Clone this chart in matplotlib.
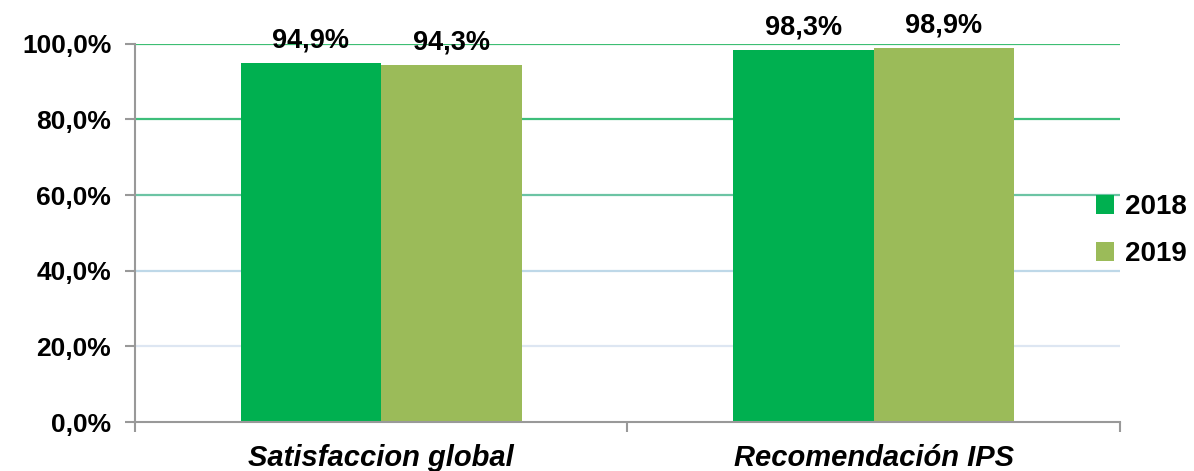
import numpy as np
import matplotlib
matplotlib.use("Agg")
import matplotlib.pyplot as plt

plt.rcParams['font.family'] = ['Liberation Sans', 'DejaVu Sans']

categories = ['Satisfaccion global', 'Recomendación IPS']
years = ['2018', '2019']
values_2018 = [94.9, 98.3]
values_2019 = [94.3, 98.9]
yticks = [0, 20, 40, 60, 80, 100]

bar_colors = ['#00b050', '#9bbb59']
grid_colors = {20: '#dde6f2', 40: '#bed8e8', 60: '#6cc4a4', 80: '#3dbe7a', 100: '#3dbe73'}

fig = plt.figure(figsize=(11.94, 4.71), dpi=100)
ax = fig.add_axes([0.113, 0.104, 0.825, 0.803])

x = np.arange(len(categories))
w = 0.285

for yv, c in grid_colors.items():
    ax.axhline(yv, color=c, lw=1.6, zorder=0)

series = [values_2018, values_2019]
for i, (vals, yr) in enumerate(zip(series, years)):
    pos = x + (i - 0.5) * w
    ax.bar(pos, vals, width=w, color=bar_colors[i], label=yr, zorder=2)
    for p, v in zip(pos, vals):
        ax.annotate(f"{v:.1f}%".replace('.', ','), (p, v), xytext=(0, 7),
                    textcoords='offset points', ha='center', va='bottom',
                    fontsize=19.5, fontweight='bold', annotation_clip=False, zorder=3)

ax.set_xlim(-0.5, 1.5)
ax.set_ylim(0, 100)
ax.set_yticks(yticks)
ax.set_yticklabels([f"{t:.1f}%".replace('.', ',') for t in yticks],
                   fontsize=19, fontweight='bold')
ax.set_xticks(x)
ax.set_xticklabels(categories, fontsize=21, fontweight='bold', style='italic')
ax.set_xticks([-0.5, 0.5, 1.5], minor=True)
ax.tick_params(axis='x', which='major', length=0, pad=16)
ax.tick_params(axis='x', which='minor', length=7, color='#999999', width=1.5)
ax.tick_params(axis='y', length=7, color='#999999', width=1.5, pad=10)

for s in ['top', 'right']:
    ax.spines[s].set_visible(False)
for s in ['left', 'bottom']:
    ax.spines[s].set_color('#999999')
    ax.spines[s].set_linewidth(1.5)

fig.legend(loc='center left', bbox_to_anchor=(0.897, 0.51), frameon=False,
           prop={'size': 20, 'weight': 'bold'}, handlelength=0.65, handleheight=0.65,
           handletextpad=0.4, labelspacing=0.75)

fig.savefig('out.png', dpi=100)
